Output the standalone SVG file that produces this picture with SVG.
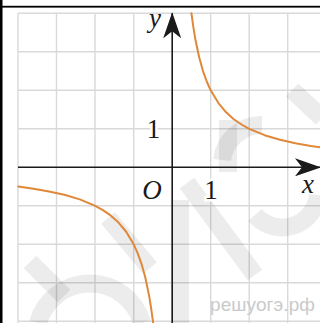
<svg xmlns="http://www.w3.org/2000/svg" width="320" height="323" viewBox="0 0 320 323">
<style>
.grid{stroke:#d9d9d9;stroke-width:1.4;fill:none}
.axis{stroke:#1a1a1a;stroke-width:1.6;fill:none}
.curve{stroke:#e0883a;stroke-width:2;fill:none;stroke-linejoin:round;stroke-linecap:round}
.wm{stroke:#000;stroke-opacity:0.075;stroke-width:18;fill:none;stroke-linecap:butt}
.lbl{font-family:"Liberation Serif","Times New Roman",serif;font-size:27px;fill:#1a1a1a}
.it{font-style:italic}
.halo{stroke:#fff;stroke-width:5;paint-order:stroke}
</style>
<defs>
<marker id="arr" viewBox="0 0 26 18" markerWidth="26" markerHeight="18" refX="25" refY="9" orient="auto" markerUnits="userSpaceOnUse">
<path d="M0,0 L26,9 L0,18 L7,9 Z" fill="#1a1a1a"/>
</marker>
</defs>
<rect width="320" height="323" fill="#fff"/>
<g id="grid">
<path class="grid" d="M18,13.3V323M56.5,13.3V323M95,13.3V323M133.7,13.3V323M210.7,13.3V323M249.2,13.3V323M287.7,13.3V323M18,13.3H320M18,51.8H320M18,90.3H320M18,128.8H320M18,205.8H320M18,244.3H320M18,282.8H320M18,321.3H320"/>
</g>
<g id="watermark">
<path class="wm" d="M38,323 A54,54 0 0 1 142,323"/>
<path class="wm" d="M30,262 L64,296"/>
<path class="wm" d="M108,218 L150,268"/>
<path class="wm" d="M187,183 L255,275"/>
<path class="wm" d="M180,200 L180,323"/>
<path class="wm" d="M228,120 L228,172"/>
<path class="wm" d="M222,160 A40,40 0 0 1 262,125"/>
<path class="wm" d="M292,90 L322,118"/>
<path class="wm" d="M255,215 A36,36 0 0 0 318,195"/>
</g>
<g id="connectors">
<line class="axis" x1="18" y1="167.3" x2="320" y2="167.3" marker-end="url(#arr)"/>
<line class="axis" x1="172.2" y1="323" x2="172.2" y2="13.3" marker-end="url(#arr)"/>
</g>
<g id="curves">
<polyline class="curve" points="191.45,13.3 193.4,27.3 195.3,39 199.15,57.3 203,71.05 206.85,81.75 210.7,90.3 218.4,103.1 226.1,112.3 233.8,119.2 241.5,124.5 249.2,128.8 264.6,135.2 280,139.8 295.4,143.2 310.8,145.9 322.35,147.6"/>
<polyline class="curve" points="18.2,186.55 33.6,188.7 49,191.4 64.4,194.8 79.8,199.4 95.2,205.8 102.9,210.1 110.6,215.4 118.3,222.3 126,231.5 133.7,244.3 137.55,252.85 141.4,263.55 145.25,277.3 149.1,295.6 151,307.3 152.95,321.3 153.7,327.5"/>
</g>
<g id="labels">
<text class="lbl it" x="149" y="27">y</text>
<text class="lbl halo" x="153.5" y="138" text-anchor="middle">1</text>
<text class="lbl it" x="152" y="199" text-anchor="middle">O</text>
<text class="lbl halo" x="211" y="199" text-anchor="middle">1</text>
<text class="lbl it" x="302" y="193">x</text>
<text x="210" y="311" font-family="Liberation Sans, Arial, sans-serif" font-size="19" fill="#cacaca" textLength="105">решуогэ.рф</text>
</g>
<g id="frame">
<rect x="0" y="0" width="2.5" height="323" fill="#000"/>
<rect x="0" y="5.8" width="320" height="1.8" fill="#000"/>
</g>
</svg>
